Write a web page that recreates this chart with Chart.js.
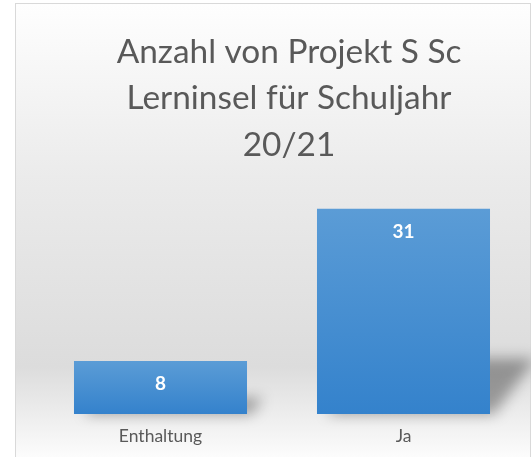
<!DOCTYPE html>
<html>
<head>
<meta charset="utf-8">
<script src="https://cdn.jsdelivr.net/npm/chart.js@4"></script>
<style>
  html, body { margin: 0; padding: 0; background: #fff; overflow: hidden; }
  #wrap {
    position: absolute; left: 15px; top: 3px;
    width: 514px; height: 453px;
    border: 1px solid #d9d9d9;
    background: linear-gradient(to bottom, #fefefe 0%, #ebebeb 38%, #dcdcdc 80%, #fcfcfc 100%);
  }
  canvas { display: block; }
</style>
</head>
<body>
<div id="wrap"><canvas id="chart" width="523" height="455"></canvas></div>
<script>
const categories = ['Enthaltung', 'Ja'];
const counts = [8, 31];
const titleLines = ['Anzahl von Projekt S Sc', 'Lerninsel für Schuljahr', '20/21'];

// Balken-Verlauf pro Balken (oben hell, unten dunkler)
function barGradient(context) {
  const chart = context.chart;
  if (!chart.chartArea || !chart.scales.y) return '#4a8fd3';
  const yScale = chart.scales.y;
  const top = yScale.getPixelForValue(context.raw);
  const bottom = yScale.getPixelForValue(0);
  const g = chart.ctx.createLinearGradient(0, top, 0, bottom);
  g.addColorStop(0, '#5b9cd6');
  g.addColorStop(1, '#3482cc');
  return g;
}

// perspektivischer Schatten rechts unten hinter den Balken
const barShadow = {
  id: 'barShadow',
  beforeDatasetsDraw(chart) {
    const ctx = chart.ctx;
    const meta = chart.getDatasetMeta(0);
    ctx.save();
    ctx.filter = 'blur(7px)';
    ctx.fillStyle = 'rgba(0,0,0,0.34)';
    meta.data.forEach(bar => {
      const left = bar.x - bar.width / 2;
      const right = bar.x + bar.width / 2;
      const h = bar.base - bar.y;
      const sh = Math.max(h * 0.27, 16);
      const skew = sh * 0.75;
      ctx.beginPath();
      ctx.moveTo(left + 10, bar.base);
      ctx.lineTo(right + 4, bar.base);
      ctx.lineTo(right + 4 + skew, bar.base - sh);
      ctx.lineTo(left + 10 + skew, bar.base - sh);
      ctx.closePath();
      ctx.fill();
    });
    ctx.restore();
  }
};

// Wertbeschriftung oben im Balken
const valueLabels = {
  id: 'valueLabels',
  afterDatasetsDraw(chart) {
    const ctx = chart.ctx;
    const meta = chart.getDatasetMeta(0);
    ctx.save();
    ctx.fillStyle = '#ffffff';
    ctx.font = 'bold 19px Lato, "Open Sans", sans-serif';
    ctx.textAlign = 'center';
    ctx.textBaseline = 'middle';
    meta.data.forEach((bar, i) => {
      ctx.fillText(String(counts[i]), bar.x, bar.y + 23);
    });
    ctx.restore();
  }
};

new Chart(document.getElementById('chart'), {
  type: 'bar',
  data: {
    labels: categories,
    datasets: [{
      label: 'Anzahl',
      data: counts,
      backgroundColor: barGradient,
      borderWidth: 0,
      categoryPercentage: 1,
      barPercentage: 0.712
    }]
  },
  options: {
    responsive: false,
    animation: false,
    layout: { padding: { left: 23, right: 0, top: 0, bottom: 0 } },
    plugins: {
      legend: { display: false },
      tooltip: { enabled: false },
      title: {
        display: true,
        text: titleLines,
        color: '#595959',
        font: { family: 'Lato, "Open Sans", sans-serif', size: 33.4, weight: 'normal', lineHeight: 1.39 },
        padding: { top: 25, bottom: 14 }
      }
    },
    scales: {
      x: {
        grid: { display: false, drawTicks: false },
        border: { display: false },
        ticks: {
          color: '#595959',
          padding: 12,
          font: { family: 'Lato, "Open Sans", sans-serif', size: 17.5 }
        }
      },
      y: {
        position: 'right',
        min: 0,
        max: 35,
        grid: { display: false, drawTicks: false },
        border: { display: false },
        ticks: { display: false },
        afterFit: (axis) => { axis.width = 14; }
      }
    }
  },
  plugins: [barShadow, valueLabels]
});
</script>
</body>
</html>
